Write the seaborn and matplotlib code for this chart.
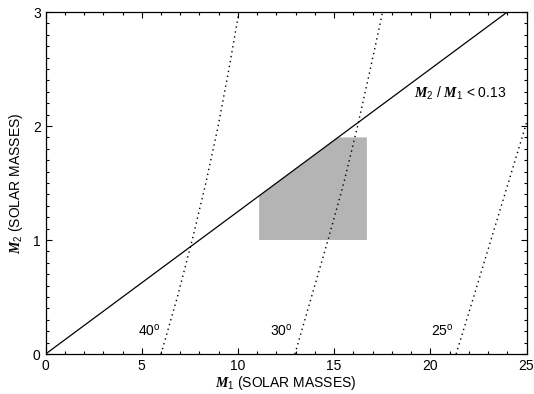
import numpy as np
import pandas as pd
import matplotlib
matplotlib.use("Agg")
import matplotlib.pyplot as plt
import seaborn as sns

sns.set_style("ticks")
plt.rcParams["font.family"] = ["Liberation Sans", "DejaVu Sans"]
plt.rcParams["mathtext.fontset"] = "custom"
plt.rcParams["mathtext.bf"] = "Liberation Serif:italic:bold"
plt.rcParams["mathtext.rm"] = "Liberation Sans"
plt.rcParams["mathtext.it"] = "Liberation Serif:italic"
plt.rcParams["text.color"] = "black"
plt.rcParams["axes.labelcolor"] = "black"

# mass ratio limit line M2 = 0.125 * M1
ratio_m1 = [0, 24.0]
ratio_m2 = [0, 3.0]

# mass-function curves for three inclinations
m2_pts = [0.0, 0.5, 1.0, 1.5, 2.0, 2.5, 3.0]
m1_40 = [6.0, 6.85, 7.62, 8.33, 8.97, 9.53, 10.05]
m1_30 = [12.96, 13.82, 14.68, 15.5, 16.22, 16.88, 17.52]
m1_25 = [21.34, 22.25, 23.15, 24.05, 24.95, 25.85, 26.7]
incl_labels = ["40", "30", "25"]
label_x = [5.95, 12.82, 21.2]
label_y = 0.19

# allowed region (gray box, clipped by the ratio line)
box_m1 = [11.1, 16.7]
box_m2 = [1.0, 1.9]

curves = pd.DataFrame({
    "M1": m1_40 + m1_30 + m1_25,
    "M2": m2_pts * 3,
    "incl": sum([[lab] * len(m2_pts) for lab in incl_labels], []),
})

fig = plt.figure(figsize=(5.34, 3.94), dpi=100)
ax = fig.add_axes([0.0854, 0.1015, 0.9006, 0.868])

# gray region below the line
slope = ratio_m2[1] / ratio_m1[1]
poly_x = [box_m1[0], box_m1[1], box_m1[1], box_m2[1] / slope, box_m1[0]]
poly_y = [box_m2[0], box_m2[0], box_m2[1], box_m2[1], box_m1[0] * slope]
ax.fill(poly_x, poly_y, color="#b4b4b4", lw=0, zorder=1)

sns.lineplot(x=ratio_m1, y=ratio_m2, color="black", lw=0.9, ax=ax, zorder=3)
for lab in incl_labels:
    d = curves[curves["incl"] == lab]
    sns.lineplot(data=d, x="M1", y="M2", sort=False, color="black", lw=1.0,
                 linestyle=(0, (1, 2.6)), ax=ax, zorder=2)

for lab, lx in zip(incl_labels, label_x):
    ax.text(lx, label_y, lab + r"$^\mathrm{o}$", ha="right", va="center", fontsize=10)

ax.text(23.95, 2.29, r"$\mathbf{M}_2$ / $\mathbf{M}_1$ < 0.13", ha="right",
        va="center", fontsize=10)

ax.set_xlim(0, 25)
ax.set_ylim(0, 3)
ax.set_xticks([0, 5, 10, 15, 20, 25])
ax.set_yticks([0, 1, 2, 3])
ax.set_xticks(np.arange(0, 26, 1), minor=True)
ax.set_yticks(np.arange(0, 3.01, 0.1), minor=True)
ax.tick_params(which="both", direction="in", top=True, right=True,
               labelsize=10, width=0.8, colors="black")
ax.tick_params(which="major", length=4.5)
ax.tick_params(which="minor", length=2.3)
for s in ax.spines.values():
    s.set_linewidth(0.9)
    s.set_color("black")

ax.set_xlabel(r"$\mathbf{M}_1$ (SOLAR MASSES)", fontsize=10, labelpad=1)
ax.set_ylabel(r"$\mathbf{M}_2$ (SOLAR MASSES)", fontsize=10, labelpad=6)

fig.savefig("out.png", dpi=100)
